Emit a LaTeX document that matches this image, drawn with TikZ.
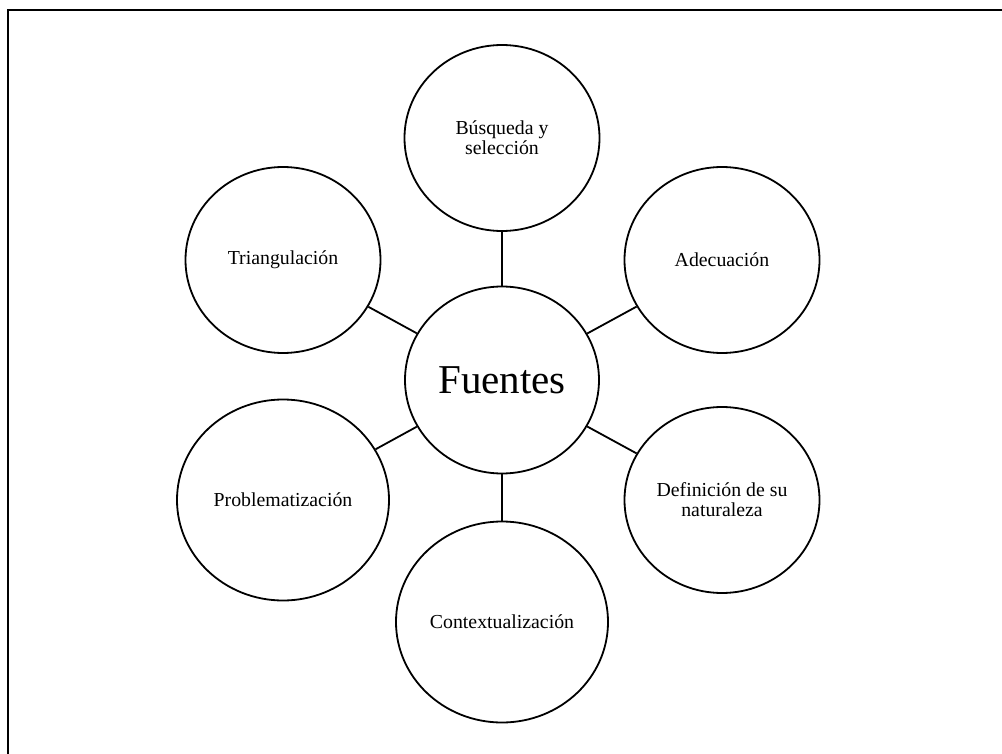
\documentclass[tikz,border=0pt]{standalone}
\usepackage{fontspec}
\setmainfont{Liberation Serif}
\usetikzlibrary{shapes.geometric}

\tikzset{
    idea/.style={draw=black, line width=1.8pt, ellipse, inner sep=0pt,
        minimum width=195pt, minimum height=186pt, align=center,
        font=\fontsize{19.8}{20}\selectfont},
    bigidea/.style={idea, minimum width=212pt, minimum height=201pt},
    spoke/.style={draw=black, line width=1.8pt}
}

\begin{document}
\begin{tikzpicture}[x=1pt, y=-1pt]
    \useasboundingbox (0,0) rectangle (1002,754);
    % frame
    \draw[line width=2pt] (8,754) -- (8,10) -- (1002,10);

    % centre
    \node[idea, minimum width=194pt, minimum height=187pt,
          font=\fontsize{41}{44}\selectfont] (fuentes) at (502,380) {Fuentes};

    % surrounding ideas
    \node[idea] (busqueda) at (502,138) {Búsqueda y\\selección};
    \node[idea] (adecuacion) at (722,260) {Adecuación};
    \node[idea] (definicion) at (722,500) {Definición de su\\naturaleza};
    \node[bigidea] (contexto) at (502,622) {Contextualización};
    \node[bigidea] (problema) at (283,500) {Problematización};
    \node[idea] (triangula) at (283,260) {Triangulación};

    % spokes
    \foreach \n in {busqueda, adecuacion, definicion, contexto, problema, triangula}
        \draw[spoke] (fuentes) -- (\n);
\end{tikzpicture}
\end{document}
